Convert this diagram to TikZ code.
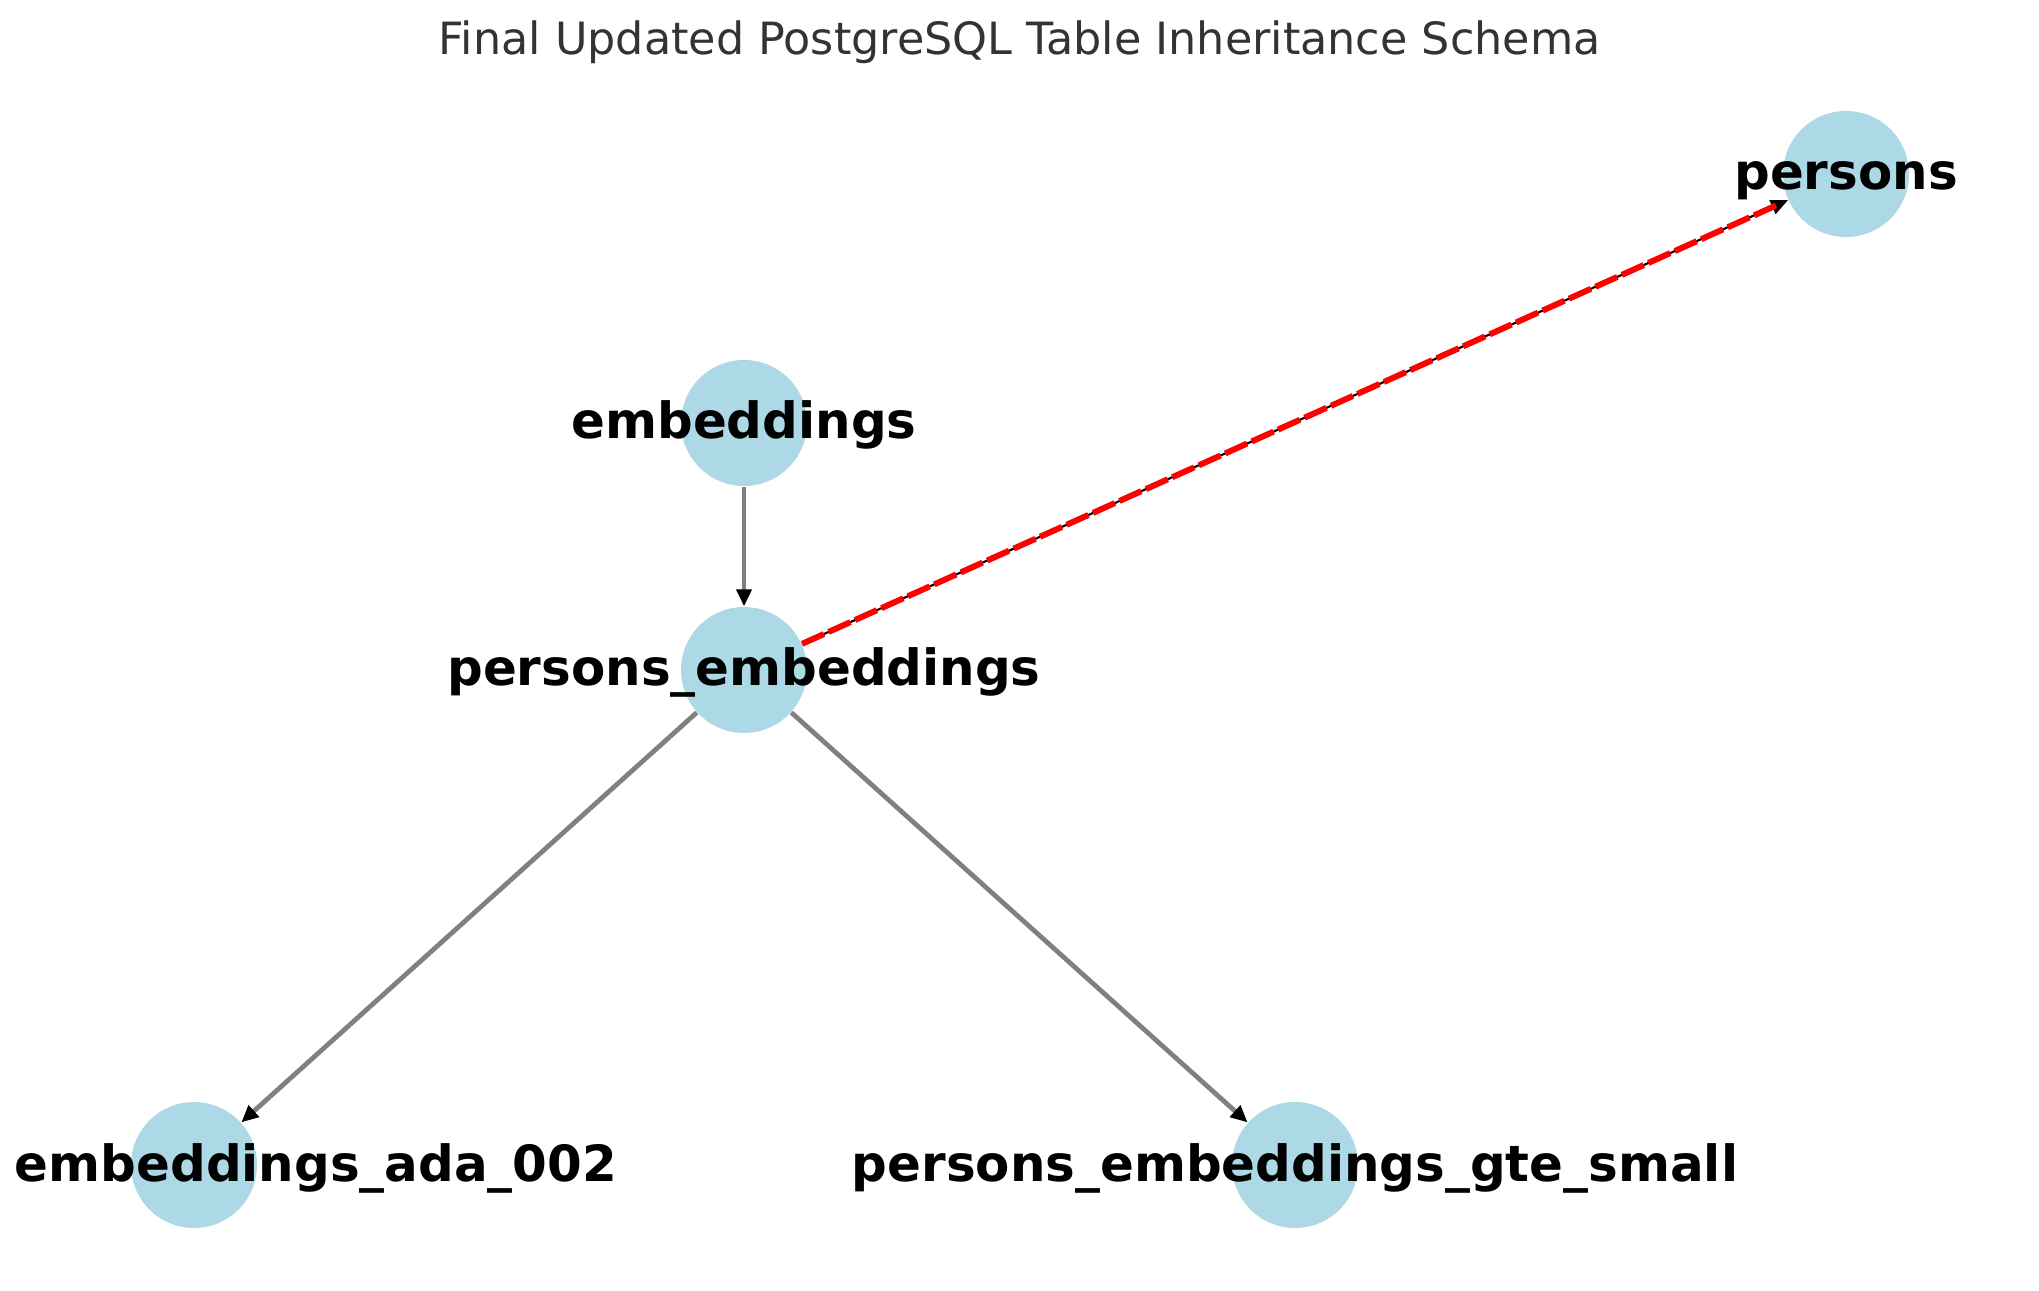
\documentclass[tikz,border=0pt]{standalone}
\usepackage{fontspec}
\setmainfont{DejaVu Sans}
\usetikzlibrary{arrows.meta}
\definecolor{tabblue}{HTML}{ADD8E6}
\tikzset{
  tabnode/.style={circle, fill=tabblue, minimum size=1.26cm, inner sep=0pt},
  tablabel/.style={font=\fontsize{14.2}{16}\selectfont\bfseries, inner sep=0pt, anchor=base, yshift=-0.16cm},
  inhedge/.style={draw=gray, line width=1.35pt, -{Triangle[length=1.7mm, width=1.5mm, black]}},
  refedge/.style={draw=black, line width=0.6pt, -{Triangle[length=1.7mm, width=1.5mm, black]}},
  refdash/.style={draw=red, line width=1.7pt, dash pattern=on 2.4mm off 0.5mm, shorten >=1.2mm}
}
\begin{document}
\begin{tikzpicture}
  \useasboundingbox (0,0) rectangle (20.39,12.90);
  % title
  \node[anchor=base, font=\fontsize{12.65}{15}\selectfont, text=black!80] (title) at (10.195,12.35) {Final Updated PostgreSQL Table Inheritance Schema};
  % tables
  \node[tabnode] (persons) at (18.46,11.16) {};
  \node[tabnode] (emb) at (7.44,8.67) {};
  \node[tabnode] (pemb) at (7.44,6.20) {};
  \node[tabnode] (ada) at (1.94,1.25) {};
  \node[tabnode] (gte) at (12.95,1.25) {};
  % inheritance
  \draw[inhedge] (emb) -- (pemb);
  \draw[inhedge] (pemb) -- (ada);
  \draw[inhedge] (pemb) -- (gte);
  % reference to persons
  \draw[refedge] (pemb) -- (persons);
  \draw[refdash] (pemb) -- (persons);
  % labels
  \node[tablabel] (persons-l) at (persons) {persons};
  \node[tablabel] (emb-l) at (emb) {embeddings};
  \node[tablabel] (pemb-l) at (pemb) {persons\_embeddings};
  \node[tablabel] (ada-l) at (3.16,1.25) {embeddings\_ada\_002};
  \node[tablabel] (gte-l) at (gte) {persons\_embeddings\_gte\_small};
\end{tikzpicture}
\end{document}
